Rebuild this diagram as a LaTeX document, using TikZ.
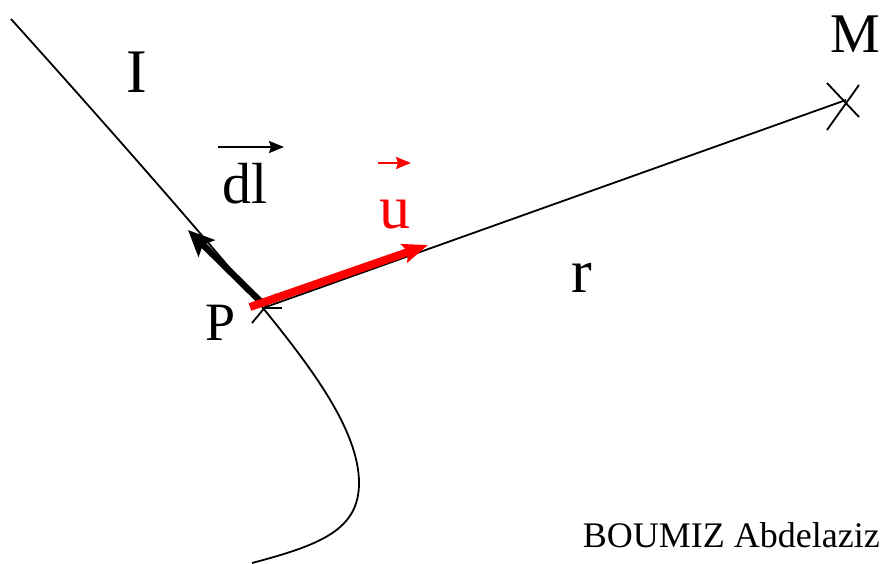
\documentclass[tikz,border=0pt]{standalone}
\usepackage{fontspec}
\setmainfont{Liberation Serif}
\usetikzlibrary{arrows.meta}
\newcommand{\fsz}[1]{\fontsize{#1}{#1}\selectfont}
\tikzset{
  thinline/.style={line width=1.8pt, black},
  lbl/.style={inner sep=0pt, anchor=base},
  vecarrow/.style={line width=2pt, -{Stealth[length=15pt,width=12pt,inset=2pt]}}
}
\begin{document}
\begin{tikzpicture}[x=1pt,y=-1pt]
\useasboundingbox (0,0) rectangle (881,563);
% points
\coordinate (P) at (263,308);
\coordinate (M) at (846,100);
\coordinate (dlend) at (188,230);
\coordinate (ustart) at (250,307);
\coordinate (uend) at (428,245);
% current-carrying wire
\draw[thinline] (11,19) .. controls (120,140) and (220,255) .. (P)
  .. controls (310,366) and (359,430) .. (359,483)
  .. controls (359,530) and (320,545) .. (252,563);
% line r
\draw[thinline] (P) -- (M);
% cross at M
\draw[thinline] (827,83) -- (859,117);
\draw[thinline] (859,85) -- (827,130);
% cross at P
\draw[thinline] (252,323) -- (276,294);
\draw[thinline] (P) -- (282,308);
% dl vector
\draw[line width=6.5pt, -{Stealth[length=26pt,width=23pt,inset=5pt]}] (261,302) -- (dlend);
% u vector
\draw[red, line width=8pt, -{Stealth[length=25pt,width=19pt,inset=4pt]}] (ustart) -- (uend);
% labels
\node[lbl] (I) at (137,92) {\fsz{62}I};
\node[lbl] (dl) at (245,203) {\fsz{58}dl};
\coordinate (dla) at (218,147);
\coordinate (dlb) at (284,147);
\draw[vecarrow] (dla) -- (dlb);
\node[lbl, red] (u) at (395,228) {\fsz{62}u};
\coordinate (ua) at (378,163);
\coordinate (ub) at (411,163);
\draw[vecarrow, red] (ua) -- (ub);
\node[lbl] (r) at (582,292) {\fsz{62}r};
\node[lbl] (Plbl) at (221,340) {\fsz{54}P};
\node[lbl] (Mlbl) at (855,52) {\fsz{56}M};
\node[lbl, anchor=base east] (name) at (880,547) {\fsz{36}BOUMIZ Abdelaziz};
\end{tikzpicture}
\end{document}
